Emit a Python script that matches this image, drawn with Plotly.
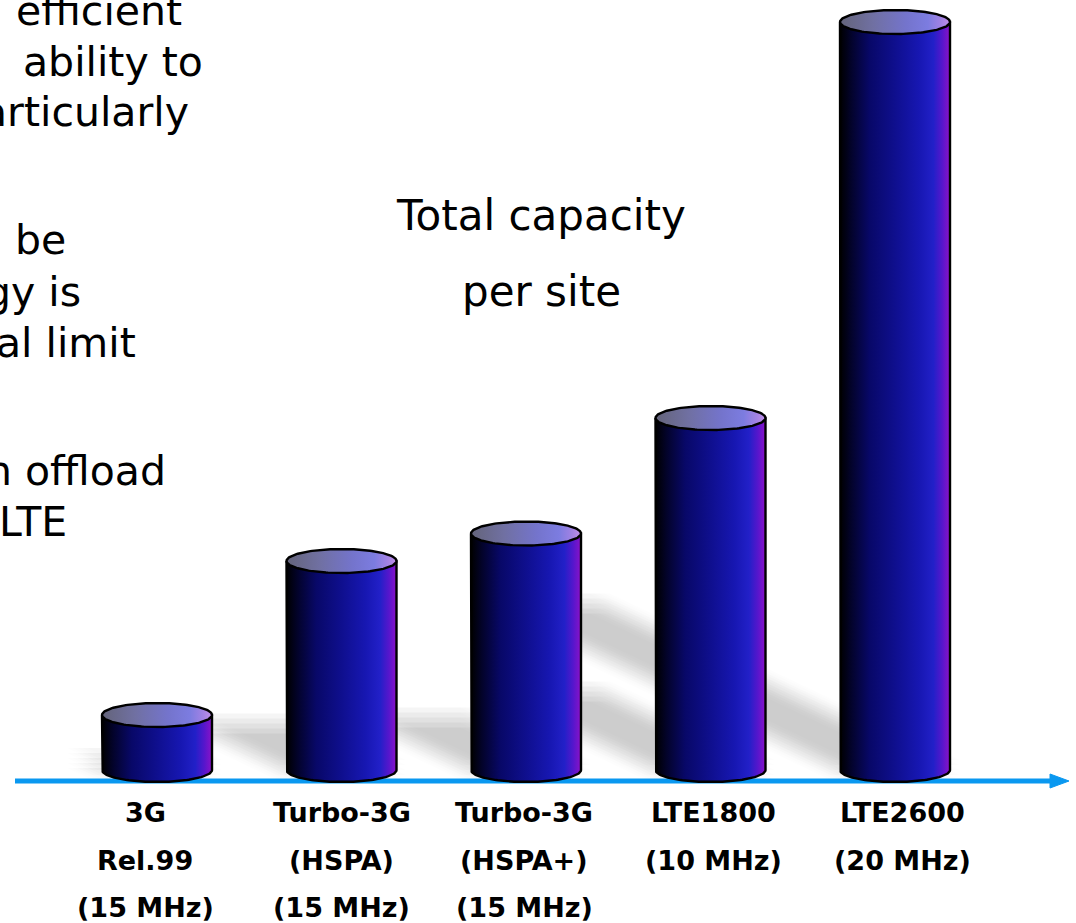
import numpy as np
import plotly.graph_objects as go

# ---- data -------------------------------------------------------------
tech_lines = [
    ["3G", "Rel.99", "(15 MHz)"],
    ["Turbo-3G", "(HSPA)", "(15 MHz)"],
    ["Turbo-3G", "(HSPA+)", "(15 MHz)"],
    ["LTE1800", "(10 MHz)"],
    ["LTE2600", "(20 MHz)"],
]
# total capacity per site, relative to 3G Rel.99
capacity = [1.0, 3.8, 4.3, 6.4, 13.6]

title_lines = ["Total capacity", "per site"]
side_lines = ["efficient", "ability to", "articularly", "be", "gy is",
              "al limit", "n offload", "LTE"]

# ---- canvas / scale geometry -----------------------------------------
W, H = 1076, 923
PX_PER_X = 184.5          # pixels between neighbouring categories
FIRST_PX = 157            # pixel centre of the first category
PX_PER_Y = 55             # pixels per capacity unit
BASE_PX = 770             # pixel row of capacity 0
HALF_W = 55 / PX_PER_X    # cylinder half width (x units)
RY = 12 / PX_PER_Y        # ellipse half height (y units)

FONT = "DejaVu Sans"


def px_x(px):
    return (px - FIRST_PX) / PX_PER_X


def px_y(py):
    return (BASE_PX - py) / PX_PER_Y


body_scale = [[0, "#000000"], [0.1, "#03032a"], [0.27, "#080868"],
              [0.5, "#0f0f8e"], [0.72, "#1717b2"], [0.85, "#2220c8"],
              [0.93, "#5616cc"], [1, "#8c12c8"]]
top_scale = [[0, "#64647a"], [0.3, "#7070a2"], [0.6, "#7474cc"],
             [0.8, "#7c7ce0"], [0.92, "#a282e4"], [1, "#c290e8"]]

fig = go.Figure()

# ---- soft perspective shadows (averaged shifted copies = blur) -------
SHADOW_SCALE = 0.223      # shadow height / bar height
SHADOW_SKEW = 2.1         # horizontal px per vertical px
offsets = [-10, -5, 0, 5, 10]
for dxp in offsets:
    for dyp in offsets:
        sx, sy = [], []
        for i, v in enumerate(capacity):
            t = SHADOW_SCALE * v
            shift = SHADOW_SKEW * t * PX_PER_Y / PX_PER_X
            L, R = i - HALF_W, i + HALF_W
            ox, oy = dxp / PX_PER_X, -dyp / PX_PER_Y
            sx += [L + ox, R + ox, R - shift + ox, L - shift + ox, L + ox, None]
            sy += [0 + oy, 0 + oy, t + oy, t + oy, 0 + oy, None]
        fig.add_trace(go.Scatter(
            x=sx, y=sy, mode="lines", fill="toself",
            fillcolor="rgba(0,0,0,0.0098)", line=dict(width=0),
            hoverinfo="skip", showlegend=False))

# ---- horizontal axis arrow (behind the cylinders) --------------------
axis_py = 781
fig.add_trace(go.Scatter(
    x=[px_x(15), px_x(1054)], y=[px_y(axis_py)] * 2, mode="lines",
    line=dict(color="#0a98f0", width=5), hoverinfo="skip", showlegend=False))
fig.add_trace(go.Scatter(
    x=[px_x(1050), px_x(1069), px_x(1050), px_x(1050)],
    y=[px_y(axis_py - 7), px_y(axis_py), px_y(axis_py + 7), px_y(axis_py - 7)],
    mode="lines", fill="toself", fillcolor="#0a98f0",
    line=dict(color="#0a98f0", width=1), hoverinfo="skip", showlegend=False))

# ---- cylinders --------------------------------------------------------
half = np.linspace(np.pi, 2 * np.pi, 80)
full = np.linspace(0, 2 * np.pi, 160)
for i, v in enumerate(capacity):
    L, R = i - HALF_W, i + HALF_W
    bx = [L] + list(i + HALF_W * np.cos(half)) + [R, L]
    by = [v] + list(RY * np.sin(half)) + [v, v]
    fig.add_trace(go.Scatter(
        x=bx, y=by, mode="lines", fill="toself",
        fillgradient=dict(type="horizontal", colorscale=body_scale),
        line=dict(color="black", width=2.4), hoverinfo="skip",
        showlegend=False))
    fig.add_trace(go.Scatter(
        x=i + HALF_W * np.cos(full), y=v + RY * np.sin(full),
        mode="lines", fill="toself",
        fillgradient=dict(type="horizontal", colorscale=top_scale),
        line=dict(color="black", width=2.4), hoverinfo="skip",
        showlegend=False))

# ---- text -------------------------------------------------------------
ann = []


def paper_y(py):
    return 1 - py / H


# category labels under the axis
LABEL_SIZE = 27
label_nudge = [-12, 0, -2, 3, 7]
label_baselines = [822, 870, 917]
for i, lines in enumerate(tech_lines):
    for r, txt in enumerate(lines):
        ann.append(dict(
            x=i, xref="x", xshift=label_nudge[i],
            y=paper_y(label_baselines[r] - 0.346 * LABEL_SIZE), yref="paper",
            text=f"<b>{txt}</b>", showarrow=False, xanchor="center",
            yanchor="middle",
            font=dict(family=FONT, size=LABEL_SIZE, color="black")))

# chart caption
TITLE_SIZE = 42
for txt, base in zip(title_lines, [230, 306]):
    ann.append(dict(
        x=541 / W, xref="paper", y=paper_y(base - 0.346 * TITLE_SIZE),
        yref="paper", text=txt, showarrow=False, xanchor="center",
        yanchor="middle",
        font=dict(family=FONT, size=TITLE_SIZE, color="black")))

# running text on the left (continues beyond the left edge)
SIDE_SIZE = 41
side_right = [184, 205, 191, 68, 83, 138, 168, 69]
side_base = [25, 76, 126, 254, 306, 357, 485, 536]
for txt, rx, base in zip(side_lines, side_right, side_base):
    ann.append(dict(
        x=rx / W, xref="paper", y=paper_y(base - 0.346 * SIDE_SIZE),
        yref="paper", text=txt, showarrow=False, xanchor="right",
        yanchor="middle",
        font=dict(family=FONT, size=SIDE_SIZE, color="black")))

fig.update_layout(
    width=W, height=H, margin=dict(l=0, r=0, t=0, b=0),
    paper_bgcolor="white", plot_bgcolor="white",
    xaxis=dict(range=[px_x(0), px_x(W)], visible=False, fixedrange=True),
    yaxis=dict(range=[px_y(H), px_y(0)], visible=False, fixedrange=True),
    annotations=ann, showlegend=False)

fig.write_html("out.html")
